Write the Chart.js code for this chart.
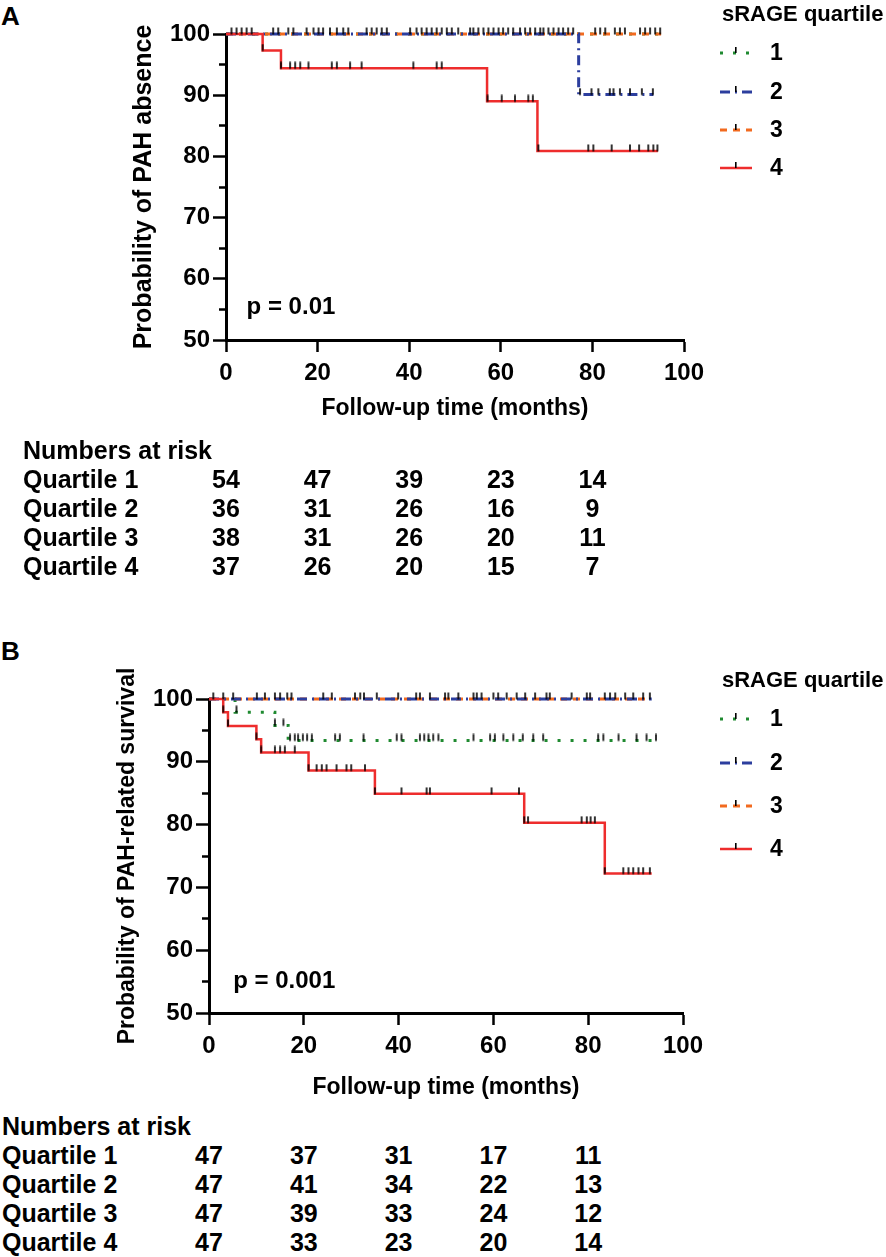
<!DOCTYPE html>
<html>
<head>
<meta charset="utf-8">
<title>sRAGE quartile - Kaplan-Meier</title>
<script src="https://cdn.jsdelivr.net/npm/chart.js@4.4.1/dist/chart.umd.min.js"></script>
<style>
  body { margin: 0; background: #fff; }
  #page { position: relative; width: 886px; height: 1257px; overflow: hidden; background: #fff;
          font-family: "Liberation Sans", Arial, Helvetica, sans-serif; color: #000; }
  .tag { position: absolute; left: 1px; font-weight: bold; font-size: 26px; line-height: 30px; }
  canvas { position: absolute; left: 0; }
  .risk { position: absolute; left: 0; width: 886px; font-weight: bold; font-size: 25px; }
  .risk .row { position: relative; height: 29px; line-height: 29px; white-space: nowrap; }
  .risk .num { position: absolute; top: 0; transform: translateX(-50%); }
</style>
</head>
<body>
<div id="page">
  <div class="tag" style="top:1px">A</div>
  <canvas id="chartA" width="886" height="440" style="top:0"></canvas>
  <div class="risk" id="riskA" style="top:436px"></div>

  <div class="tag" style="top:636px">B</div>
  <canvas id="chartB" width="886" height="470" style="top:640px"></canvas>
  <div class="risk" id="riskB" style="top:1112px"></div>
</div>
<script>
// ---- data ----
const QUARTILES = ['1', '2', '3', '4'];
const RISK_MONTHS = [0, 20, 40, 60, 80];
const X_TITLE = 'Follow-up time (months)';

// Panel A: probability of PAH absence (step times / values, censored times)
const A_TIME_Q1 = [0, 95];
const A_SURV_Q1 = [100, 100];
const A_CENS_Q1 = [1.2, 4.5, 11.4, 17.6, 21.2, 25.6, 31.8, 35.1, 42.7, 46.0, 49.3, 54.0, 57.3, 60.5,
                   64.2, 67.5, 70.4, 73.6, 80.6, 84.9, 90.4, 93.7];
const A_TIME_Q2 = [0, 77, 93.3];
const A_SURV_Q2 = [100, 90.1, 90.1];
const A_CENS_Q2 = [2.3, 5.6, 13.6, 19.1, 24.2, 30.7, 34.0, 41.6, 44.9, 48.2, 53.3, 56.2, 59.5, 62.7,
                   66.4, 69.3, 72.6, 75.8, 77.3, 79.8, 81.3, 83.8, 84.6, 86.0, 88.2, 90.8, 93.2];
const A_TIME_Q3 = [0, 95];
const A_SURV_Q3 = [100, 100];
const A_CENS_Q3 = [3.4, 10.3, 14.7, 20.2, 22.7, 26.7, 32.9, 40.2, 43.8, 47.1, 50.7, 55.1, 58.4, 61.6,
                   65.3, 68.6, 71.5, 74.7, 81.7, 82.8, 86.0, 87.1, 91.5, 92.6, 94.8];
const A_TIME_Q4 = [0, 8, 12, 57, 68, 94.3];
const A_SURV_Q4 = [100, 97.3, 94.4, 89.0, 80.9, 80.9];
const A_CENS_Q4 = [8, 12, 14.0, 15.1, 16.2, 18.0, 23.1, 24.2, 27.1, 29.6, 40.9, 46.0, 47.1, 57.1,
                   60.2, 63.1, 66.0, 67.0, 68.2, 79.1, 80.2, 84.2, 88.2, 90.2, 92.2, 93.3, 94.2];
const A_RISK = [
  [54, 47, 39, 23, 14],
  [36, 31, 26, 16, 9],
  [38, 31, 26, 20, 11],
  [37, 26, 20, 15, 7]
];

// Panel B: probability of PAH-related survival
const B_TIME_Q1 = [0, 5.5, 13.9, 16.7, 94.5];
const B_SURV_Q1 = [100, 97.9, 95.8, 93.4, 93.4];
const B_CENS_Q1 = [5.8, 13.9, 15.7, 17.1, 18.1, 18.8, 19.8, 20.7, 21.7, 26.6, 27.6, 32.6, 39.6, 40.6,
                   44.5, 45.4, 46.3, 47.3, 48.4, 55.8, 59.3, 60.3, 62.1, 64.2, 66.2, 68.4, 70.5,
                   82.1, 83.2, 86.4, 90.2, 92.3, 94.3];
const B_TIME_Q2 = [0, 93.4];
const B_SURV_Q2 = [100, 100];
const B_CENS_Q2 = [0.9, 5.1, 11.8, 15.0, 17.4, 25.9, 31.9, 35.4, 43.7, 46.6, 50.5, 55.8, 57.5, 61.0,
                   64.9, 68.8, 71.9, 79.7, 83.5, 85.7, 89.5, 93.0];
const B_TIME_Q3 = [0, 93.0];
const B_SURV_Q3 = [100, 100];
const B_CENS_Q3 = [3.0, 10.1, 13.9, 16.5, 24.1, 30.8, 32.7, 39.9, 44.5, 49.8, 52.6, 56.5, 60.0, 62.8,
                   66.7, 71.2, 76.5, 80.4, 84.6, 87.8, 91.6];
const B_TIME_Q4 = [0, 3, 4, 10, 11, 21, 35, 66.5, 83.5, 93.4];
const B_SURV_Q4 = [100, 97.9, 95.7, 93.6, 91.5, 88.6, 84.9, 80.3, 72.2, 72.2];
const B_CENS_Q4 = [3, 4, 10, 11, 13.9, 15.0, 16.0, 18.1, 21, 22.7, 23.8, 24.8, 26.9, 29.0, 30.0, 32.9,
                   35, 40.6, 45.9, 46.6, 59.6, 65.4, 66.5, 67.3, 78.6, 79.7, 80.5, 81.4, 83.5,
                   87.4, 88.5, 89.5, 90.6, 91.6, 93.0];
const B_RISK = [
  [47, 37, 31, 17, 11],
  [47, 41, 34, 22, 13],
  [47, 39, 33, 24, 12],
  [47, 33, 23, 20, 14]
];

// ---- styles ----
const FONT = '"Liberation Sans", Arial, Helvetica, sans-serif';
Chart.defaults.font.family = FONT;
Chart.defaults.font.weight = 'bold';
Chart.defaults.color = '#000';

const LINE_STYLE = [
  { color: '#1f8a30', width: 3, dash: [3, 10] },
  { color: '#2c3e9e', width: 3, dash: [10, 5, 2, 5] },
  { color: '#f26a1f', width: 3, dash: [7, 6] },
  { color: '#ee2d2d', width: 2.5, dash: [] }
];
const DRAW_ORDER = [4, 2, 3, 1];

// small black censor tick, sits on top of the curve
const makeMark = () => {
  const c = document.createElement('canvas');
  c.width = 4; c.height = 14;
  const g = c.getContext('2d');
  g.fillStyle = '#000';
  g.fillRect(1.2, 0.5, 1.6, 7);
  return c;
};
const MARK = makeMark();

const survAt = (times, surv, t) => {
  let v = surv[0];
  times.forEach((tt, i) => { if (tt <= t) v = surv[i]; });
  return v;
};

const buildDatasets = (series) => {
  const sets = [];
  series.forEach((s, i) => {
    const st = LINE_STYLE[i];
    sets.push({
      label: QUARTILES[i],
      isCurve: true,
      data: s.time.map((t, k) => ({ x: t, y: s.surv[k] })),
      showLine: true,
      stepped: true,
      borderColor: st.color,
      backgroundColor: st.color,
      borderWidth: st.width,
      borderDash: st.dash,
      pointRadius: 0,
      pointHoverRadius: 0,
      fill: false,
      clip: false,
      order: DRAW_ORDER[i]
    });
  });
  series.forEach((s) => {
    sets.push({
      label: '',
      data: s.cens.map(t => ({ x: t, y: survAt(s.time, s.surv, t) })),
      showLine: false,
      pointStyle: MARK,
      pointRadius: 3,
      pointHoverRadius: 3,
      clip: false,
      order: 0
    });
  });
  return sets;
};

// legend drawn at the right of the plot
const kmLegend = {
  id: 'kmLegend',
  afterDraw(chart, args, opts) {
    const ctx = chart.ctx;
    ctx.save();
    ctx.fillStyle = '#000';
    ctx.textBaseline = 'middle';
    ctx.textAlign = 'left';
    ctx.font = 'bold 22px ' + FONT;
    ctx.fillText(opts.title, opts.x + 2, opts.titleY);
    ctx.font = 'bold 23px ' + FONT;
    chart.data.datasets.filter(d => d.isCurve).forEach((ds, i) => {
      const y = opts.rows[i];
      ctx.beginPath();
      ctx.strokeStyle = ds.borderColor;
      ctx.lineWidth = ds.borderWidth;
      ctx.setLineDash(ds.borderDash || []);
      ctx.moveTo(opts.x, y);
      ctx.lineTo(opts.x + 32, y);
      ctx.stroke();
      ctx.setLineDash([]);
      ctx.fillRect(opts.x + 15, y - 6, 1.6, 6);
      ctx.fillText(ds.label, opts.x + 50, y + 1);
    });
    ctx.restore();
  }
};

const pValue = {
  id: 'pValue',
  afterDraw(chart, args, opts) {
    const ctx = chart.ctx;
    ctx.save();
    ctx.fillStyle = '#000';
    ctx.font = 'bold 24px ' + FONT;
    ctx.textBaseline = 'middle';
    ctx.textAlign = 'left';
    ctx.fillText(opts.text, chart.scales.x.getPixelForValue(opts.at[0]), chart.scales.y.getPixelForValue(opts.at[1]));
    ctx.restore();
  }
};

const makeChart = (id, cfg) => new Chart(document.getElementById(id), {
  type: 'scatter',
  data: { datasets: buildDatasets(cfg.series) },
  options: {
    responsive: false,
    animation: false,
    events: [],
    layout: { padding: { top: cfg.area.top, right: 886 - cfg.area.right, left: 0, bottom: 0 } },
    scales: {
      x: {
        type: 'linear', min: 0, max: 100,
        ticks: { stepSize: 20, padding: 7, maxRotation: 0, color: '#000', font: { size: 24, weight: 'bold' } },
        grid: { drawOnChartArea: false, tickLength: 12, tickWidth: 2.5, tickColor: '#000' },
        border: { color: '#000', width: 3 },
        title: { display: true, text: X_TITLE, color: '#000', font: { size: 23, weight: 'bold' },
                 padding: { top: 0, bottom: cfg.xTitlePad } },
        afterFit: s => { s.height = cfg.xAxisHeight; }
      },
      y: {
        type: 'linear', min: 50, max: 100,
        ticks: { stepSize: 5, padding: 3, autoSkip: false, color: '#000', font: { size: 24, weight: 'bold' },
                 callback: v => (v % 10 === 0 ? v : '') },
        // minor ticks (every 5) are shorter: the dash leaves the outer part blank
        grid: { drawOnChartArea: false, tickLength: 13, tickWidth: 2.5, tickColor: '#000',
                tickBorderDash: c => (c.tick && c.tick.value % 10 !== 0 ? [0, 6, 8, 100] : []) },
        border: { color: '#000', width: 3 },
        title: { display: true, text: cfg.yTitle, color: '#000', font: { size: cfg.yTitleSize, weight: 'bold' },
                 padding: { top: cfg.yTitlePad, bottom: 0 } },
        afterFit: s => { s.width = cfg.area.left; }
      }
    },
    plugins: {
      legend: { display: false },
      tooltip: { enabled: false },
      kmLegend: cfg.legend,
      pValue: cfg.p
    }
  },
  plugins: [kmLegend, pValue]
});

const fillRisk = (holderId, chart, risk, labelLeft) => {
  const holder = document.getElementById(holderId);
  const head = document.createElement('div');
  head.className = 'row';
  head.innerHTML = '<span style="position:absolute;left:' + labelLeft + 'px">Numbers at risk</span>';
  holder.appendChild(head);
  risk.forEach((vals, i) => {
    const row = document.createElement('div');
    row.className = 'row';
    let html = '<span style="position:absolute;left:' + labelLeft + 'px">Quartile ' + QUARTILES[i] + '</span>';
    vals.forEach((v, j) => {
      const px = chart.scales.x.getPixelForValue(RISK_MONTHS[j]);
      html += '<span class="num" style="left:' + px + 'px">' + v + '</span>';
    });
    row.innerHTML = html;
    holder.appendChild(row);
  });
};

const chartA = makeChart('chartA', {
  series: [
    { time: A_TIME_Q1, surv: A_SURV_Q1, cens: A_CENS_Q1 },
    { time: A_TIME_Q2, surv: A_SURV_Q2, cens: A_CENS_Q2 },
    { time: A_TIME_Q3, surv: A_SURV_Q3, cens: A_CENS_Q3 },
    { time: A_TIME_Q4, surv: A_SURV_Q4, cens: A_CENS_Q4 }
  ],
  area: { left: 226, top: 34, right: 684 },
  xAxisHeight: 100, xTitlePad: 18, yTitlePad: 129, yTitleSize: 25,
  yTitle: 'Probability of PAH absence',
  legend: { title: 'sRAGE quartile', x: 720, titleY: 15, rows: [53, 92, 130, 168] },
  p: { text: 'p = 0.01', at: [4.5, 55.4] }
});
fillRisk('riskA', chartA, A_RISK, 23);

const chartB = makeChart('chartB', {
  series: [
    { time: B_TIME_Q1, surv: B_SURV_Q1, cens: B_CENS_Q1 },
    { time: B_TIME_Q2, surv: B_SURV_Q2, cens: B_CENS_Q2 },
    { time: B_TIME_Q3, surv: B_SURV_Q3, cens: B_CENS_Q3 },
    { time: B_TIME_Q4, surv: B_SURV_Q4, cens: B_CENS_Q4 }
  ],
  area: { left: 209, top: 59, right: 683 },
  xAxisHeight: 97, xTitlePad: 9, yTitlePad: 114, yTitleSize: 23,
  yTitle: 'Probability of PAH-related survival',
  legend: { title: 'sRAGE quartile', x: 720, titleY: 41, rows: [79, 123, 166, 209] },
  p: { text: 'p = 0.001', at: [5.1, 55.1] }
});
fillRisk('riskB', chartB, B_RISK, 2);
</script>
</body>
</html>
